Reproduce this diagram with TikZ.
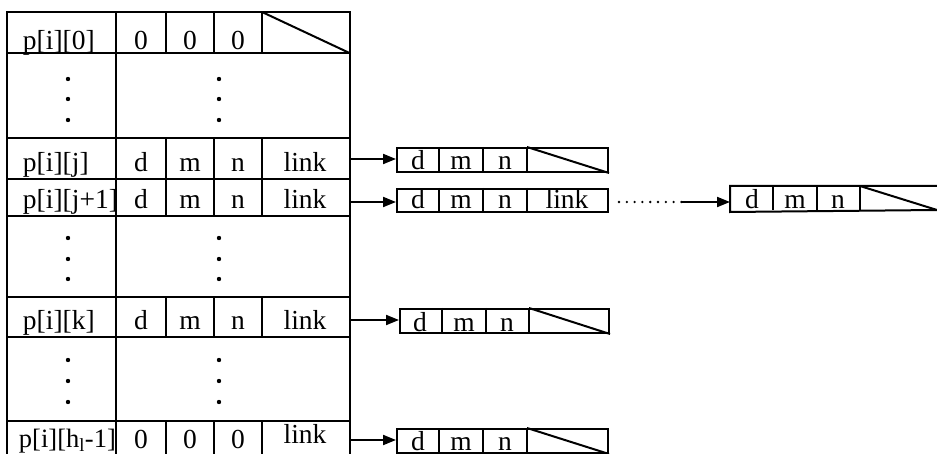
\documentclass[tikz,border=0pt]{standalone}
\usepackage{fontspec}
\setmainfont{Liberation Serif}
\usetikzlibrary{arrows.meta}
\begin{document}
\begin{tikzpicture}[x=1pt,y=-1pt, line width=2pt,
  txt/.style={anchor=base, inner sep=0pt, font=\fontsize{27.5}{30}\selectfont},
  ltxt/.style={txt, anchor=base west},
  cellbox/.style={rectangle, inner sep=0pt, minimum width=#1, minimum height=24pt, anchor=north west},
  arr/.style={-{Triangle[length=13pt,width=10pt]}},
  dotc/.style={fill, circle, inner sep=0pt, minimum size=4.4pt},
  ldot/.style={fill, circle, inner sep=0pt, minimum size=2.6pt}
]
\useasboundingbox (0,0) rectangle (937,454);
% ---------------- main table
\draw (7,454) -- (7,12) -- (349.5,12) -- (349.5,454);
\foreach \y in {53,138,179,216,297,337,421} \draw (7,\y) -- (349.5,\y);
\draw (116,12) -- (116,454);
\foreach \a/\b in {12/53,138/216,297/337,421/454}
  \draw (166,\a) -- (166,\b) (214,\a) -- (214,\b) (262,\a) -- (262,\b);
\draw (262,12) -- (349.5,53);
% row 0
\node[ltxt] (r0a) at (22,50) {p[i][0]};
\node[txt] (r0b) at (141,50) {0};
\node[txt] (r0c) at (190,50) {0};
\node[txt] (r0d) at (238,50) {0};
% row j
\node[ltxt] (rja) at (22,172) {p[i][j]};
\node[txt] (rjb) at (141,172) {d};
\node[txt] (rjc) at (190,172) {m};
\node[txt] (rjd) at (238,172) {n};
\node[txt] (rje) at (305,172) {link};
% row j+1
\node[ltxt] (rpa) at (22,209) {p[i][j+1]};
\node[txt] (rpb) at (141,209) {d};
\node[txt] (rpc) at (190,209) {m};
\node[txt] (rpd) at (238,209) {n};
\node[txt] (rpe) at (305,209) {link};
% row k
\node[ltxt] (rka) at (22,330) {p[i][k]};
\node[txt] (rkb) at (141,330) {d};
\node[txt] (rkc) at (190,330) {m};
\node[txt] (rkd) at (238,330) {n};
\node[txt] (rke) at (305,330) {link};
% row h-1
\node[ltxt, font=\fontsize{26.5}{30}\selectfont] (rha) at (18,447) {p[i][h\textsubscript{l}-1]};
\node[txt] (rhb) at (141,448) {0};
\node[txt] (rhc) at (190,448) {0};
\node[txt] (rhd) at (238,448) {0};
\node[txt] (rhe) at (305,443) {link};
% vertical dots
\foreach \y in {79,99,120,238,259,279,360,381,402}
  \node[dotc] at (68,\y) {} node[dotc] at (219,\y) {};
% ---------------- list boxes
% box after row j
\node[cellbox=211pt, draw] (b1) at (396,147) {};
\draw (439,147) -- (439,171) (483,147) -- (483,171) (527,147) -- (527,171);
\draw (527,147) -- (b1.south east);
\node[txt] (b1d) at (418,170) {d};
\node[txt] (b1m) at (461,170) {m};
\node[txt] (b1n) at (505,170) {n};
% box after row j+1
\node[cellbox=211pt, minimum height=23pt, draw] (b2) at (396,188) {};
\draw (439,188) -- (439,211) (483,188) -- (483,211) (527,188) -- (527,211);
\node[txt] (b2d) at (418,209) {d};
\node[txt] (b2m) at (461,209) {m};
\node[txt] (b2n) at (505,209) {n};
\node[txt] (b2l) at (567,209) {link};
% last box of that list (open to the right)
\node[cellbox=207pt] (b3) at (730,186) {};
\draw (937,186) -- (b3.north west) -- (b3.south west) -- (937,210);
\draw (773,186) -- (773,210) (817,186) -- (817,210) (860,186) -- (860,210);
\draw (860,186) -- (937,210);
\node[txt] (b3d) at (752,209) {d};
\node[txt] (b3m) at (795,209) {m};
\node[txt] (b3n) at (838,209) {n};
% box after row k
\node[cellbox=209pt, draw] (bk) at (399,308) {};
\draw (442,308) -- (442,332) (486,308) -- (486,332) (529,308) -- (529,332);
\draw (529,308) -- (bk.south east);
\node[txt] (bkd) at (420,331) {d};
\node[txt] (bkm) at (464,331) {m};
\node[txt] (bkn) at (507,331) {n};
% box after row h-1
\node[cellbox=211pt, draw] (bh) at (396,428) {};
\draw (439,428) -- (439,452) (483,428) -- (483,452) (527,428) -- (527,452);
\draw (527,428) -- (bh.south east);
\node[txt] (bhd) at (418,450) {d};
\node[txt] (bhm) at (461,450) {m};
\node[txt] (bhn) at (505,450) {n};
% ---------------- arrows
\coordinate (sj) at (350,159);
\coordinate (sp) at (350,202);
\coordinate (sk) at (350,320);
\coordinate (sh) at (350,440);
\draw[arr] (sj) -- (sj -| b1.west);
\draw[arr] (sp) -- (sp -| b2.west);
\draw[arr] (sk) -- (sk -| bk.west);
\draw[arr] (sh) -- (sh -| bh.west);
\foreach \i in {0,...,8} \node[ldot] at (619+7.8*\i,202) {};
\coordinate (ld) at (682,202);
\draw[arr] (ld) -- (ld -| b3.west);
\end{tikzpicture}
\end{document}
